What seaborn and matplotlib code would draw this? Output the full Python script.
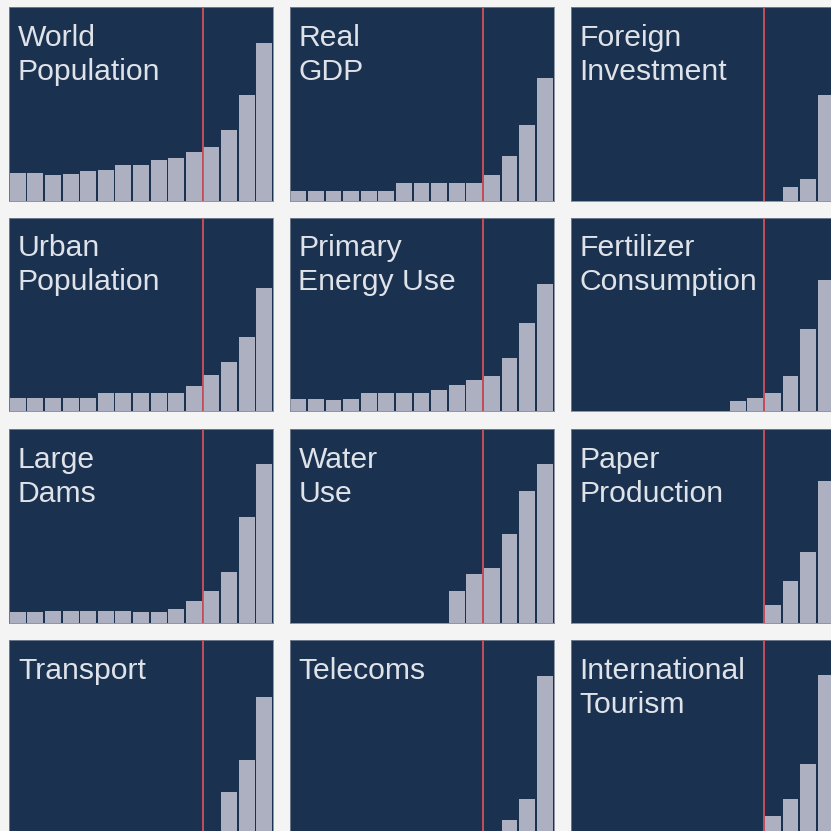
import matplotlib
matplotlib.use("Agg")
import matplotlib.pyplot as plt
import seaborn as sns
import pandas as pd

# ---- data (bar heights as % of panel height) ----
periods = list(range(15))
titles = ["World\nPopulation", "Real\nGDP", "Foreign\nInvestment",
          "Urban\nPopulation", "Primary\nEnergy Use", "Fertilizer\nConsumption",
          "Large\nDams", "Water\nUse", "Paper\nProduction",
          "Transport", "Telecoms", "International\nTourism"]

world_population = [14.1, 14.1, 13.4, 13.8, 15.2, 15.9, 18.3, 18.3, 20.7, 22.1, 25.0, 27.9, 36.2, 54.5, 81.6]
real_gdp = [4.8, 4.8, 4.8, 4.8, 4.8, 4.8, 9.1, 9.1, 9.1, 9.1, 9.1, 13.4, 23.1, 38.8, 63.4]
foreign_investment = [0, 0, 0, 0, 0, 0, 0, 0, 0, 0, 0, 0, 6.9, 11.0, 54.3]
urban_population = [6.9, 6.9, 6.9, 6.9, 6.9, 9.4, 9.4, 9.4, 9.4, 9.4, 12.9, 18.4, 25.2, 38.3, 63.5]
primary_energy = [6.3, 6.3, 5.5, 6.3, 9.1, 9.1, 9.1, 9.1, 11.1, 13.4, 15.8, 18.0, 27.3, 45.5, 65.7]
fertilizer = [0, 0, 0, 0, 0, 0, 0, 0, 0, 5.1, 6.9, 9.1, 18.0, 42.4, 67.8]
large_dams = [5.5, 5.5, 6.0, 6.0, 6.0, 6.0, 6.0, 5.5, 5.5, 6.9, 11.2, 16.4, 25.9, 54.7, 82.0]
water_use = [0, 0, 0, 0, 0, 0, 0, 0, 0, 16.4, 25.0, 28.0, 45.6, 68.2, 82.0]
paper_production = [0, 0, 0, 0, 0, 0, 0, 0, 0, 0, 0, 9.0, 21.6, 36.3, 72.9]
transport = [0, 0, 0, 0, 0, 0, 0, 0, 0, 0, 0, 0, 21.6, 37.8, 70.6]
telecoms = [0, 0, 0, 0, 0, 0, 0, 0, 0, 0, 0, 0, 7.1, 18.0, 81.5]
tourism = [0, 0, 0, 0, 0, 0, 0, 0, 0, 0, 0, 9.0, 18.0, 36.1, 81.9]

series = [world_population, real_gdp, foreign_investment,
          urban_population, primary_energy, fertilizer,
          large_dams, water_use, paper_production,
          transport, telecoms, tourism]
marker_position = 10.5

# ---- style ----
NAVY = "#1a3250"
BAR = "#adb0c0"
RED = "#d2505a"
BG = "#f4f4f4"

sns.set_style("white")
plt.rcParams["font.family"] = ["Liberation Sans", "DejaVu Sans"]

W = H = 831
fig = plt.figure(figsize=(W / 100, H / 100), dpi=100, facecolor=BG)

col_left = [9, 289.5, 570.5]
row_top = [7, 217.5, 429, 640]
pw, ph = 264, 193.5

for i, (title, vals) in enumerate(zip(titles, series)):
    r, c = divmod(i, 3)
    x0 = col_left[c]
    y0 = row_top[r]
    ax = fig.add_axes([x0 / W, 1 - (y0 + ph) / H, pw / W, ph / H])
    ax.set_facecolor(NAVY)
    df = pd.DataFrame({"period": periods, "value": vals})
    sns.barplot(data=df, x="period", y="value", ax=ax, color=BAR,
                saturation=1, width=0.9, edgecolor="none", order=periods)
    ax.axvline(marker_position, color=RED, lw=1.3, zorder=3)
    ax.set_xlim(-0.5, 14.5)
    ax.set_ylim(0, 100)
    ax.set_xticks([])
    ax.set_yticks([])
    ax.set_xlabel("")
    ax.set_ylabel("")
    for s in ax.spines.values():
        s.set_visible(True)
        s.set_color("#7c8597")
        s.set_linewidth(0.6)
    ax.text(9 / pw, 1 - 17 / ph, title, transform=ax.transAxes,
            ha="left", va="top", fontsize=21.7, color="#dfe2e8",
            linespacing=1.27)

fig.savefig("out.png", dpi=100, facecolor=BG)
